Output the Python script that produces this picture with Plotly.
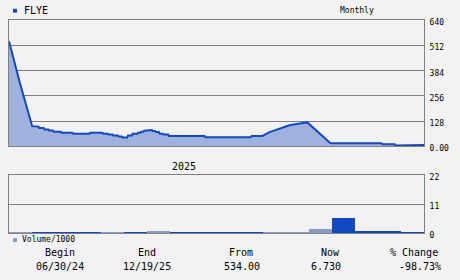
import plotly.graph_objects as go

# ---- data ----
price_dates = [
    "2024-06-30", "2024-07-14", "2024-07-30", "2024-08-07", "2024-08-08", "2024-08-14",
    "2024-08-15", "2024-08-20", "2024-08-21", "2024-08-26", "2024-08-27", "2024-09-05",
    "2024-09-06", "2024-09-20", "2024-09-21", "2024-10-12", "2024-10-13", "2024-10-29",
    "2024-10-30", "2024-11-05", "2024-11-06", "2024-11-11", "2024-11-12", "2024-11-18",
    "2024-11-19", "2024-11-23", "2024-11-24", "2024-11-30", "2024-12-01", "2024-12-06",
    "2024-12-07", "2024-12-13", "2024-12-14", "2024-12-17", "2024-12-18", "2024-12-21",
    "2024-12-22", "2024-12-26", "2024-12-27", "2025-01-01", "2025-01-02", "2025-01-05",
    "2025-01-06", "2025-01-10", "2025-01-11", "2025-01-15", "2025-01-16", "2025-01-22",
    "2025-01-23", "2025-03-10", "2025-03-11", "2025-05-09", "2025-05-10", "2025-05-24",
    "2025-06-02", "2025-06-11", "2025-06-19", "2025-06-28", "2025-07-07", "2025-07-15",
    "2025-07-21", "2025-08-20", "2025-10-25", "2025-10-26", "2025-11-11", "2025-11-12",
    "2025-12-03", "2025-12-04", "2025-12-19",
]
price_values = [
    534, 323, 102, 100, 93, 93,
    85, 85, 80, 80, 74, 74,
    69, 69, 64, 64, 69, 69,
    64, 64, 59, 59, 54, 54,
    49, 49, 44, 44, 54, 54,
    64, 64, 69, 69, 74, 74,
    79, 79, 82, 82, 77, 77,
    72, 72, 64, 64, 59, 59,
    52, 52, 46, 46, 52, 52,
    72, 85, 98, 107, 113, 117,
    121, 15, 15, 10, 10, 3.5,
    3.5, 6.73, 6.73,
]
vol_months = ["2024-07", "2024-08", "2024-09", "2024-10", "2024-11", "2024-12",
              "2025-01", "2025-02", "2025-03", "2025-04", "2025-05", "2025-06",
              "2025-07", "2025-08", "2025-09", "2025-10", "2025-11", "2025-12"]
vol_values = [0.5, 0.3, 0.5, 0.5, 0.5, 0.5, 0.8, 0.4, 0.4, 0.4, 0.4, 0.4,
              0.4, 1.5, 5.6, 0.75, 0.75, 0.35]
price_ticks = [0, 128, 256, 384, 512, 640]
price_tick_text = ["0.00", "128", "256", "384", "512", "640"]
vol_ticks = [0, 11, 22]
vol_tick_text = ["0", "11", "22"]

# ---- styles ----
DARK = "#1148c6"
LIGHT = "#8a9cc8"
FILL = "#9fb2de"
GRID = "#808080"
BG = "#f2f2f2"
bar_colors = [LIGHT, DARK, DARK, DARK, LIGHT, DARK, LIGHT, DARK, DARK, DARK, DARK,
              LIGHT, LIGHT, LIGHT, DARK, DARK, DARK, DARK]

W, H = 460, 280
def px(x):
    return x / W
def py(y):
    return 1 - y / H

MONO = "DejaVu Sans Mono"

fig = go.Figure()
fig.add_trace(go.Scatter(
    x=price_dates, y=price_values, mode="lines",
    line=dict(color=DARK, width=2), fill="tozeroy", fillcolor=FILL,
    xaxis="x", yaxis="y", hoverinfo="skip"))
fig.add_trace(go.Bar(
    x=list(range(len(vol_months))), y=vol_values, width=1,
    marker=dict(color=bar_colors, line=dict(width=0)),
    xaxis="x2", yaxis="y2", hoverinfo="skip"))

xdom = [px(9), px(424)]
axis_common = dict(showline=True, linecolor=GRID, linewidth=1, mirror=True,
                   zeroline=False)
fig.update_layout(
    width=W, height=H, margin=dict(l=0, r=0, t=0, b=0),
    paper_bgcolor=BG, plot_bgcolor=BG, showlegend=False, bargap=0,
    xaxis=dict(domain=xdom, type="date", range=["2024-06-30", "2025-12-19"],
               showgrid=False, showticklabels=False, anchor="y", **axis_common),
    yaxis=dict(domain=[py(149), py(19)], range=[0, 640], side="right",
               tickvals=price_ticks, ticktext=price_tick_text,
               showgrid=True, gridcolor=GRID, gridwidth=1,
               tickfont=dict(family=MONO, size=8, color="#000"),
               ticks="", ticklabelstandoff=3, ticklabelshift=2,
               anchor="x", **axis_common),
    xaxis2=dict(domain=xdom, range=[-0.5, len(vol_months) - 0.5],
                showgrid=False, showticklabels=False, anchor="y2", **axis_common),
    yaxis2=dict(domain=[py(239), py(179)], range=[0, 22], side="right",
                tickvals=vol_ticks, ticktext=vol_tick_text,
                showgrid=True, gridcolor=GRID, gridwidth=1,
                tickfont=dict(family=MONO, size=8, color="#000"),
                ticks="", ticklabelstandoff=3, ticklabelshift=2,
                anchor="x2", **axis_common),
)

def ann(text, x, y, size=10, xanchor="center"):
    fig.add_annotation(text=text, x=px(x), y=py(y), xref="paper", yref="paper",
                       xanchor=xanchor, yanchor="middle", showarrow=False,
                       font=dict(family=MONO, size=size, color="#000"))

ann("FLYE", 22, 9, 10, "left")
ann("Monthly", 357, 9, 8)
ann("2025", 170, 170, 10, "left")
ann("Volume/1000", 20, 245, 8, "left")
ann("Begin", 60, 259)
ann("06/30/24", 60, 273)
ann("End", 147, 259)
ann("12/19/25", 147, 273)
ann("From", 241, 259)
ann("534.00", 242, 273)
ann("Now", 330, 259)
ann("6.730", 326, 273)
ann("% Change", 414, 259)
ann("-98.73%", 420, 273)

fig.add_shape(type="rect", xref="paper", yref="paper",
              x0=px(13), x1=px(17), y0=py(11), y1=py(7),
              fillcolor=DARK, line=dict(width=0))
fig.add_shape(type="rect", xref="paper", yref="paper",
              x0=px(13), x1=px(17), y0=py(248), y1=py(244),
              fillcolor=LIGHT, line=dict(width=0))

fig.write_html("out.html")
